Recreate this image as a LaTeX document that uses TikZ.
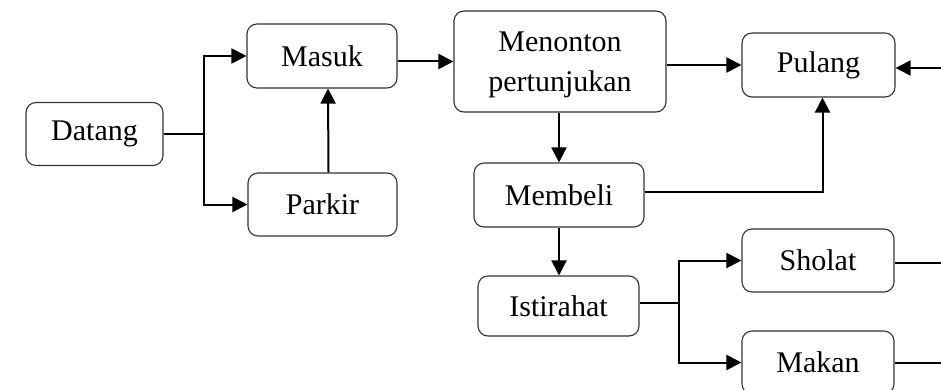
\documentclass[tikz,border=0pt]{standalone}
\usepackage{fontspec}
\setmainfont{Liberation Serif}
\usetikzlibrary{arrows.meta}
\begin{document}
\begin{tikzpicture}[x=1pt,y=-1pt,
  box/.style={draw=black!80,line width=1.1pt,rounded corners=10pt,inner sep=0pt,
    align=center,font=\fontsize{30}{40}\selectfont},
  lbl/.style={inner sep=0pt,align=center,font=\fontsize{30}{40}\selectfont},
  arr/.style={line width=2pt,-{Triangle[length=15pt,width=15pt]}},
  ln/.style={line width=2pt}]
\useasboundingbox (0,0) rectangle (941,390);
\node[box,minimum width=137pt,minimum height=63pt] (datang) at (94.5,134) {Datang};
\node[box,minimum width=150pt,minimum height=64pt] (masuk) at (322,56) {Masuk};
\node[box,minimum width=149pt,minimum height=63pt] (parkir) at (322.5,204.5) {Parkir};
\node[box,minimum width=212pt,minimum height=101pt] (menonton) at (560,61.5) {};
\node[lbl] (menontontext) at (560,64.5) {Menonton\\pertunjukan};
\node[box,minimum width=170pt,minimum height=64pt] (membeli) at (559,195) {Membeli};
\node[box,minimum width=161pt,minimum height=60pt] (istirahat) at (558.5,306) {Istirahat};
\node[box,minimum width=153pt,minimum height=64pt] (pulang) at (818.5,65) {Pulang};
\node[box,minimum width=152pt,minimum height=63pt] (sholat) at (818,260.5) {Sholat};
\node[box,minimum width=152pt,minimum height=63pt] (makan) at (818,362.5) {Makan};
\coordinate (rin) at (941,68);
\coordinate (rsh) at (941,263);
\coordinate (rmk) at (941,363);
\draw[arr] (datang.east) -- ++(40,0) |- (masuk.west);
\draw[arr] (datang.east) -- ++(40,0) |- (parkir.west);
\draw[arr] ([xshift=6pt]parkir.north) -- ([xshift=6pt]masuk.south);
\draw[arr] (masuk.east |- menonton) -- (menonton.west);
\draw[arr] (menonton.east |- pulang) -- (pulang.west);
\draw[arr] (menonton.south -| membeli) -- (membeli.north);
\draw[arr] ([yshift=3pt]membeli.east) -| ([xshift=4pt]pulang.south);
\draw[arr] (membeli.south) -- (istirahat.north -| membeli);
\draw[arr] ([yshift=3pt]istirahat.east) -- ++(39,0) |- (sholat.west);
\draw[arr] ([yshift=3pt]istirahat.east) -- ++(39,0) |- (makan.west);
\draw[arr] (rin) -- (pulang.east |- rin);
\draw[ln] (sholat.east |- rsh) -- (rsh);
\draw[ln] (makan.east |- rmk) -- (rmk);
\end{tikzpicture}
\end{document}
